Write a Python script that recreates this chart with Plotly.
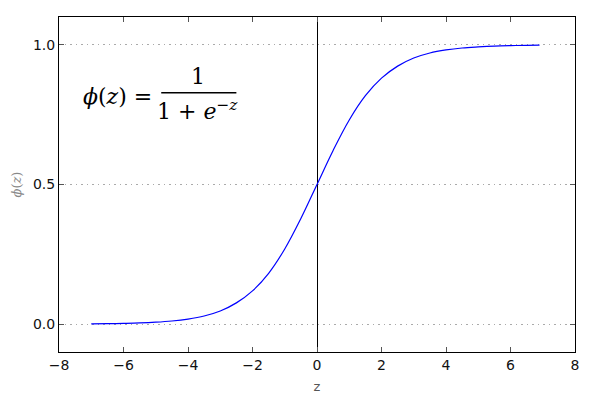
import plotly.graph_objects as go

# values
z_values = [-7.0, -6.5, -6.0, -5.5, -5.0, -4.5, -4.0, -3.5, -3.0, -2.5, -2.0, -1.5, -1.0, -0.5,
            0.0, 0.5, 1.0, 1.5, 2.0, 2.5, 3.0, 3.5, 4.0, 4.5, 5.0, 5.5, 6.0, 6.5, 6.9]
phi_values = [0.001, 0.0015, 0.0025, 0.004, 0.0067, 0.011, 0.018, 0.029, 0.047, 0.076, 0.119,
              0.182, 0.269, 0.378, 0.5, 0.622, 0.731, 0.818, 0.881, 0.924, 0.953, 0.971,
              0.982, 0.989, 0.993, 0.996, 0.9975, 0.9985, 0.999]
x_ticks = [-8, -6, -4, -2, 0, 2, 4, 6, 8]
y_ticks = [0.0, 0.5, 1.0]
y_tick_labels = ["0.0", "0.5", "1.0"]

fig = go.Figure()
fig.add_trace(go.Scatter(x=z_values, y=phi_values, mode="lines",
                         line=dict(color="#0000ff", width=1.2, shape="spline"),
                         showlegend=False, hoverinfo="skip"))

tickfont = dict(family="DejaVu Sans", size=14, color="#111111")
fig.update_layout(
    width=592, height=396,
    margin=dict(l=51, r=25, t=9, b=52, autoexpand=False),
    plot_bgcolor="white", paper_bgcolor="white",
    xaxis=dict(range=[-8, 8], tickvals=x_ticks,
               ticktext=[str(v).replace("-", "−") for v in x_ticks],
               ticks="inside", ticklen=5, tickcolor="#555555", mirror="ticks",
               showline=True, linecolor="black", linewidth=1,
               showgrid=False, zeroline=True, zerolinecolor="black", zerolinewidth=1.2,
               tickfont=tickfont, automargin=False,
               title=dict(text="z", font=dict(family="DejaVu Sans", size=13, color="#555555"), standoff=10)),
    yaxis=dict(range=[-0.1, 1.1], tickvals=y_ticks, ticktext=y_tick_labels,
               ticks="inside", ticklen=5, tickcolor="#555555", mirror="ticks",
               showline=True, linecolor="black", linewidth=1,
               showgrid=True, gridcolor="#aaaaaa", griddash="1.5px,4px", gridwidth=1,
               zeroline=False, tickfont=tickfont, automargin=False,
               title=dict(text="<i>ϕ</i>(<i>z</i>)", font=dict(family="DejaVu Serif", size=13, color="#888888"), standoff=8)),
)

ffont = dict(family="DejaVu Serif", size=22, color="black")
fig.add_annotation(x=-7.33, y=0.815, xref="x", yref="y", text="<i>ϕ</i>(<i>z</i>) = ",
                   showarrow=False, xanchor="left", yanchor="middle", font=ffont)
fig.add_annotation(x=-3.7, y=0.835, xref="x", yref="y", text="1",
                   showarrow=False, xanchor="center", yanchor="bottom", font=ffont)
fig.add_annotation(x=-3.7, y=0.823, xref="x", yref="y", text="1 + <i>e</i><sup>−<i>z</i></sup>",
                   showarrow=False, xanchor="center", yanchor="top", font=ffont)
fig.add_shape(type="line", x0=-4.83, x1=-2.5, y0=0.829, y1=0.829, xref="x", yref="y",
              line=dict(color="black", width=1.5))

fig.write_html("out.html")
